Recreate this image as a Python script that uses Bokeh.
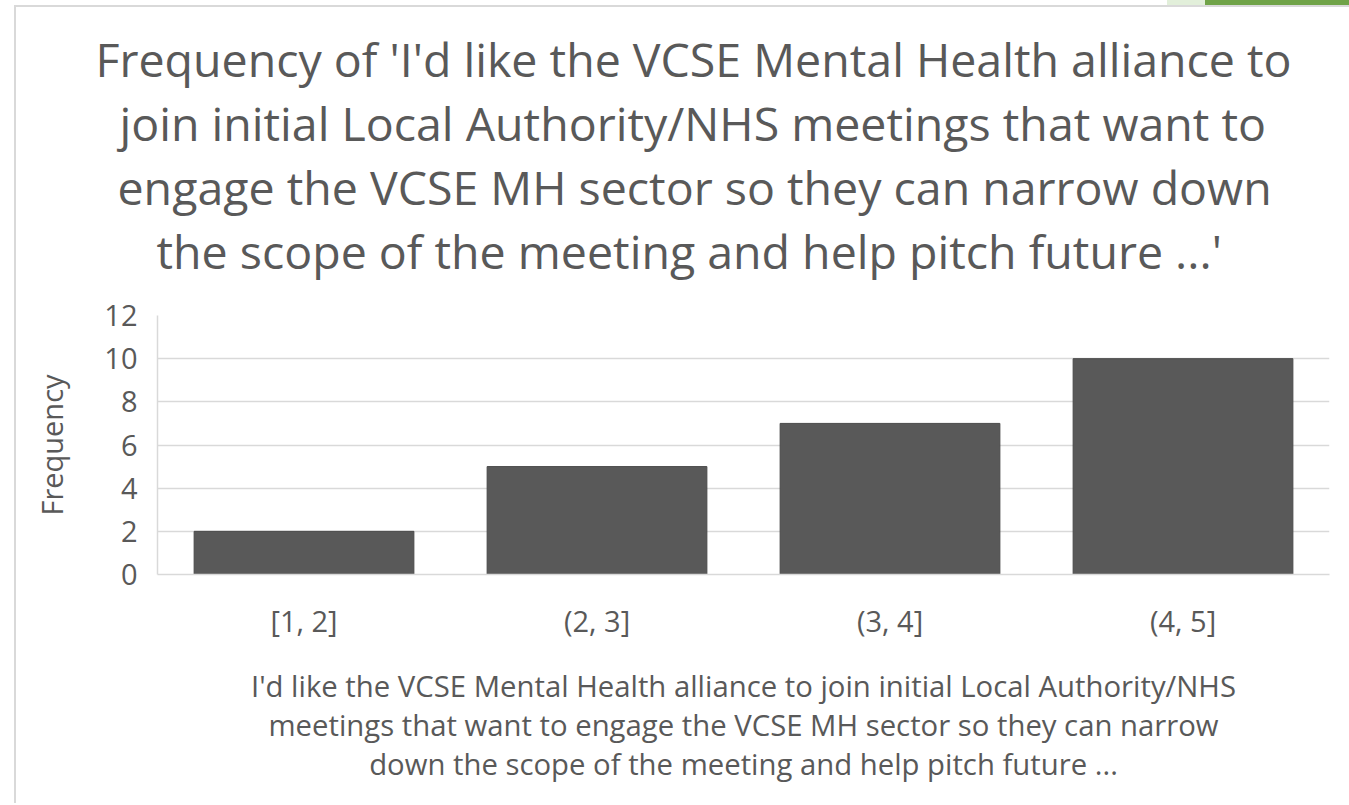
from bokeh.plotting import figure
from bokeh.models import Range1d, Title, FixedTicker, Spacer
from bokeh.layouts import column, row
from bokeh.embed import file_html
from bokeh.resources import INLINE

categories = ["[1, 2]", "(2, 3]", "(3, 4]", "(4, 5]"]
frequency = [2, 5, 7, 10]
y_ticks = [0, 2, 4, 6, 8, 10, 12]
title_lines = [
    "Frequency of 'I'd like the VCSE Mental Health alliance to",
    "join initial Local Authority/NHS meetings that want to",
    "engage the VCSE MH sector so they can narrow down",
    "the scope of the meeting and help pitch future ...'",
]
xlabel_lines = [
    "I'd like the VCSE Mental Health alliance to join initial Local Authority/NHS",
    "meetings that want to engage the VCSE MH sector so they can narrow",
    "down the scope of the meeting and help pitch future ...",
]
y_label = "Frequency"

FONT = "Open Sans"
TXT = "#595959"
GRID = "#d9d9d9"
BORDER = "#d9d9d9"


def make_title(text, size, standoff, **kw):
    try:
        return Title(text=text, text_font=FONT, text_font_size=size,
                     text_font_style="normal", text_color=TXT,
                     standoff=standoff, **kw)
    except Exception:
        return Title(text=text, text_font=FONT, text_font_size=size,
                     text_font_style="normal", text_color=TXT,
                     standoff=0, **kw)


p = figure(x_range=categories, y_range=Range1d(0, 12), width=1317, height=782,
           output_backend="svg", toolbar_location=None,
           min_border_left=141, min_border_right=4,
           min_border_top=308, min_border_bottom=215)

p.vbar(x=categories, top=frequency, width=0.75,
       fill_color="#595959", line_color="#4a4a4a", line_width=1)

p.outline_line_color = None
p.background_fill_color = "white"
p.border_fill_color = "white"

p.xgrid.grid_line_color = None
p.ygrid.ticker = FixedTicker(ticks=y_ticks)
p.ygrid.grid_line_color = GRID
p.ygrid.grid_line_width = 1.5

yax = p.yaxis[0]
yax.ticker = FixedTicker(ticks=y_ticks)
yax.minor_tick_line_color = None
yax.major_tick_line_color = None
yax.major_tick_out = 0
yax.major_tick_in = 0
yax.axis_line_color = GRID
yax.axis_line_width = 1.5
yax.major_label_text_font = FONT
yax.major_label_text_font_size = "29px"
yax.major_label_text_color = TXT
yax.major_label_standoff = 20
yax.axis_label = y_label
yax.axis_label_text_font = FONT
yax.axis_label_text_font_size = "29px"
yax.axis_label_text_font_style = "normal"
yax.axis_label_text_color = TXT
yax.axis_label_standoff = 30

xax = p.xaxis[0]
xax.major_tick_line_color = None
xax.minor_tick_line_color = None
xax.major_tick_out = 0
xax.major_tick_in = 0
xax.axis_line_color = GRID
xax.axis_line_width = 1.5
xax.major_label_text_font = FONT
xax.major_label_text_font_size = "29px"
xax.major_label_text_color = TXT
xax.major_label_standoff = 26

# --- chart title: stacked above the frame (innermost first) ---
p.add_layout(make_title(" ", "1px", 29.3), "above")  # gap above frame
title_offsets = [-62, -38, -40, -1]
for line, off in reversed(list(zip(title_lines, title_offsets))):
    p.add_layout(make_title(line, "46.5px", -1.6, align="left", offset=off), "above")

# --- x-axis title: stacked below the axis ---
p.add_layout(make_title(" ", "1px", 19.6), "below")  # gap below tick labels
for line in xlabel_lines:
    p.add_layout(make_title(line, "29.3px", -2.9, align="center"), "below")

# chart-area border lines and window strip seen in the screenshot
top_strip = row(
    Spacer(width=1167, height=5),
    Spacer(width=38, height=5, styles={"background-color": "#e2efda"}),
    Spacer(width=144, height=5, styles={"background-color": "#70a348"}),
)
top_line = row(
    Spacer(width=14, height=2),
    Spacer(width=1335, height=2, styles={"background-color": BORDER}),
)
body = row(
    Spacer(width=14, height=796),
    Spacer(width=2, height=796, styles={"background-color": BORDER}),
    p,
)
layout = column(top_strip, top_line, body)

open("out.html", "w").write(file_html(layout, INLINE))
